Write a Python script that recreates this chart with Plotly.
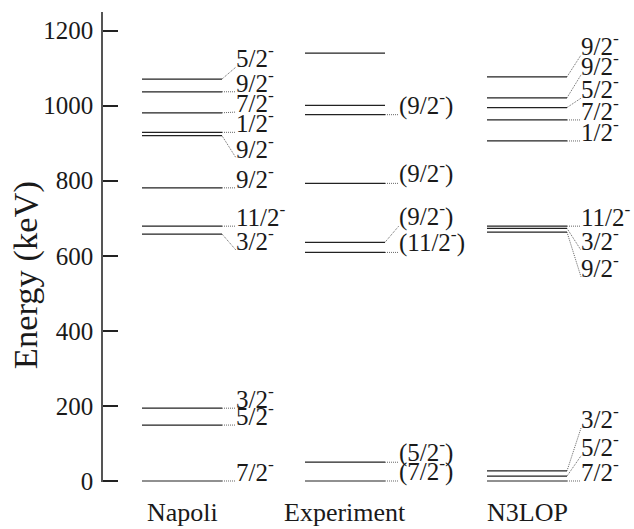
import plotly.graph_objects as go

# ---- level data (keV) ----
columns = ["Napoli", "Experiment", "N3LOP"]

napoli_energy = [0, 149, 194, 658, 679, 781, 920, 929, 981, 1037, 1071]
napoli_spin = ["7/2-", "5/2-", "3/2-", "3/2-", "11/2-", "9/2-", "9/2-", "1/2-", "7/2-", "9/2-", "5/2-"]

exp_energy = [0, 50, 609, 636, 793, 976, 1001, 1140]
exp_spin = ["(7/2-)", "(5/2-)", "(11/2-)", "(9/2-)", "(9/2-)", "(9/2-)", None, None]

n3lop_energy = [0, 13, 27, 663, 673, 679, 906, 962, 995, 1021, 1077]
n3lop_spin = ["7/2-", "5/2-", "3/2-", "9/2-", "3/2-", "11/2-", "1/2-", "7/2-", "5/2-", "9/2-", "9/2-"]

energy_ticks = [0, 200, 400, 600, 800, 1000, 1200]

# ---- layout: where each spin label sits (keV), spread apart to avoid overlap ----
napoli_label_at = [0, 149, 194, 615, 679, 781, 861, 929, 983, 1037, 1103]
exp_label_at = [0, 50, 609, 680, 793, 976, None, None]
n3lop_label_at = [0, 67, 141, 544, 615, 679, 906, 962, 1020, 1082, 1135]

column_center = [0.79, 2.42, 4.24]
half_width = 0.40
label_gap = 0.14
x_range = [0, 5.31]
y_range = [-2.7, 1249.6]

FONT = "Liberation Serif, Times New Roman, serif"
INK = "#1a1a1a"

levels = [
    (napoli_energy, napoli_spin, napoli_label_at),
    (exp_energy, exp_spin, exp_label_at),
    (n3lop_energy, n3lop_spin, n3lop_label_at),
]


def fmt(spin):
    return spin.replace("-", "<sup>-</sup>")


fig = go.Figure()
annotations = []

for ci, (energies, spins, label_at) in enumerate(levels):
    xc = column_center[ci]
    x0, x1 = xc - half_width, xc + half_width
    lx, ly = [], []
    dx, dy = [], []
    for e, s, le in zip(energies, spins, label_at):
        lx += [x0, x1, None]
        ly += [e, e, None]
        if s is None:
            continue
        dx += [x1, x1 + label_gap, None]
        dy += [e, le, None]
        annotations.append(dict(
            x=x1 + label_gap, y=le, xref="x", yref="y",
            text=fmt(s), showarrow=False, xanchor="left", yanchor="bottom",
            yshift=-5, borderpad=0, borderwidth=0,
            font=dict(family=FONT, size=25, color=INK),
        ))
    # dotted leaders from level to label
    fig.add_trace(go.Scatter(
        x=dx, y=dy, mode="lines", hoverinfo="skip", showlegend=False,
        line=dict(color="#666666", width=1, dash="1px,1px"),
    ))
    # level lines
    fig.add_trace(go.Scatter(
        x=lx, y=ly, mode="lines", hoverinfo="skip", showlegend=False,
        line=dict(color="#222222", width=1.2),
    ))
    # column name below the scheme
    annotations.append(dict(
        x=xc, y=-0.064, xref="x", yref="paper", text=columns[ci],
        showarrow=False, xanchor="center", yanchor="middle",
        font=dict(family=FONT, size=26, color=INK),
    ))

annotations.append(dict(
    x=-0.147, y=0.44, xref="paper", yref="paper", text="Energy (keV)",
    textangle=-90, showarrow=False, xanchor="center", yanchor="middle",
    font=dict(family=FONT, size=34.5, color=INK),
))

fig.update_layout(
    width=634, height=529,
    margin=dict(l=103, r=0, t=12, b=47),
    paper_bgcolor="white", plot_bgcolor="white",
    showlegend=False,
    annotations=annotations,
    xaxis=dict(range=x_range, visible=False, fixedrange=True),
    yaxis=dict(
        range=y_range, showgrid=False, zeroline=False,
        showline=True, linecolor="#555555", linewidth=1.5,
        ticks="inside", ticklen=15, tickwidth=1.5, tickcolor="#222222",
        tickvals=energy_ticks, ticktext=[str(v) for v in energy_ticks],
        tickfont=dict(family=FONT, size=25, color=INK),
        ticklabelstandoff=3,
    ),
)

fig.write_html("out.html")
